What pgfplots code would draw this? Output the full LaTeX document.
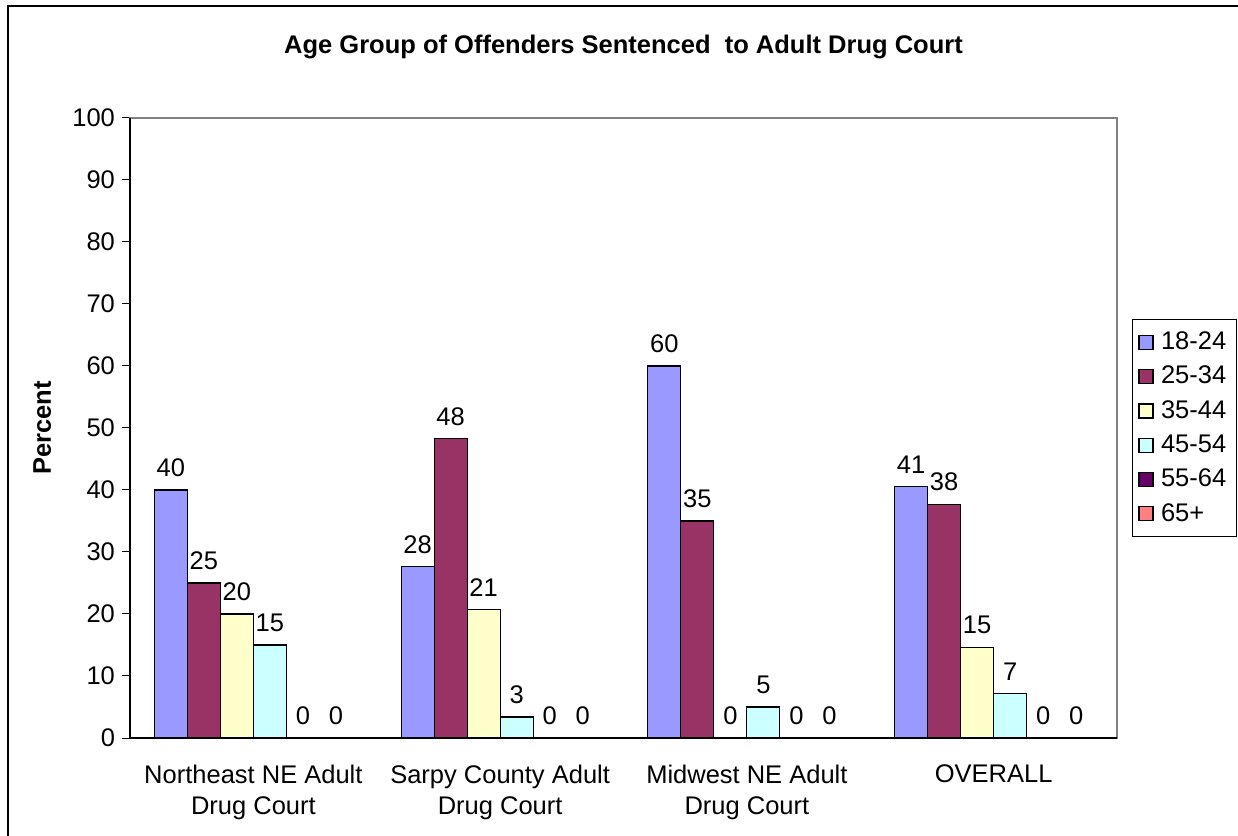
\documentclass[border=0pt]{standalone}
\usepackage{fontspec}
\setmainfont{Liberation Sans}
\usepackage{pgfplots}
\pgfplotsset{compat=1.18}
\definecolor{cA}{HTML}{9999FF}
\definecolor{cB}{HTML}{993366}
\definecolor{cC}{HTML}{FFFFCC}
\definecolor{cD}{HTML}{CCFFFF}
\definecolor{cE}{HTML}{660066}
\definecolor{cF}{HTML}{FF8080}
\newcommand{\fs}{\fontsize{12.75}{15.5}\selectfont}
\begin{document}
\begin{tikzpicture}
\useasboundingbox (0,0) rectangle (619pt,418pt);
\draw[line width=0.8pt] (4pt,-20pt) -- (4pt,415pt) -- (640pt,415pt);
\node[font=\fs\bfseries, anchor=center] at (311.75pt,394.5pt) {Age Group of Offenders Sentenced\ \ to Adult Drug Court};
\begin{axis}[
  at={(65pt,49pt)}, anchor=south west,
  scale only axis, width=493.5pt, height=310pt,
  ybar=0pt, bar width=16.5pt,
  xmin=-0.5, xmax=3.5, ymin=0, ymax=100,
  xtick={0,1,2,3},
  xticklabels={{Northeast NE Adult\\Drug Court},{Sarpy County Adult\\Drug Court},{Midwest NE Adult\\Drug Court},{OVERALL}},
  xticklabel style={align=center, font=\fs, yshift=-6pt},
  major x tick style={draw=none},
  extra x ticks={0.5,1.5,2.5},
  extra x tick labels={},
  extra x tick style={major tick length=5pt, tick style={draw=black, line width=0.5pt}},
  ytick={0,10,...,100},
  yticklabel style={font=\fs},
  tick align=outside, major tick length=4pt,
  tick style={black, line width=0.5pt},
  ytick pos=left, xtick pos=bottom,
  axis line style={draw=gray, line width=0.8pt},
  /pgf/number format/assume math mode=true,
  ylabel={\bfseries Percent},
  ylabel style={at={(axis description cs:-0.089,0.5)}, anchor=center, font=\fs},
  nodes near coords,
  nodes near coords style={font=\fs, /pgf/number format/fixed, /pgf/number format/precision=0, /pgf/number format/assume math mode=true, yshift=3pt},
  legend style={at={(1.015,0.5)}, anchor=west, draw=black, line width=0.6pt,
    font=\fs, row sep=2.8pt, inner xsep=3pt, inner ysep=4pt},
  legend cell align=left,
  legend image code/.code={\draw[#1, line width=0.6pt] (0pt,-3.5pt) rectangle (7pt,3.5pt); \path[draw=none,fill=none] (0pt,0pt) -- (9pt,0pt);},
  clip=false,
]
\addplot[fill=cA, draw=black, line width=0.6pt] coordinates {(0,40) (1,27.6) (2,60) (3,40.6)};
\addplot[fill=cB, draw=black, line width=0.6pt] coordinates {(0,25) (1,48.3) (2,35) (3,37.7)};
\addplot[fill=cC, draw=black, line width=0.6pt] coordinates {(0,20) (1,20.7) (2,0) (3,14.6)};
\addplot[fill=cD, draw=black, line width=0.6pt] coordinates {(0,15) (1,3.4) (2,5) (3,7.2)};
\addplot[fill=cE, draw=black, line width=0.6pt] coordinates {(0,0) (1,0) (2,0) (3,0)};
\addplot[fill=cF, draw=black, line width=0.6pt] coordinates {(0,0) (1,0) (2,0) (3,0)};
\legend{18-24,25-34,35-44,45-54,55-64,65+}
\draw[black, line width=0.8pt] (rel axis cs:0,1) -- (rel axis cs:0,0) -- (rel axis cs:1,0);
\end{axis}
\end{tikzpicture}
\end{document}
